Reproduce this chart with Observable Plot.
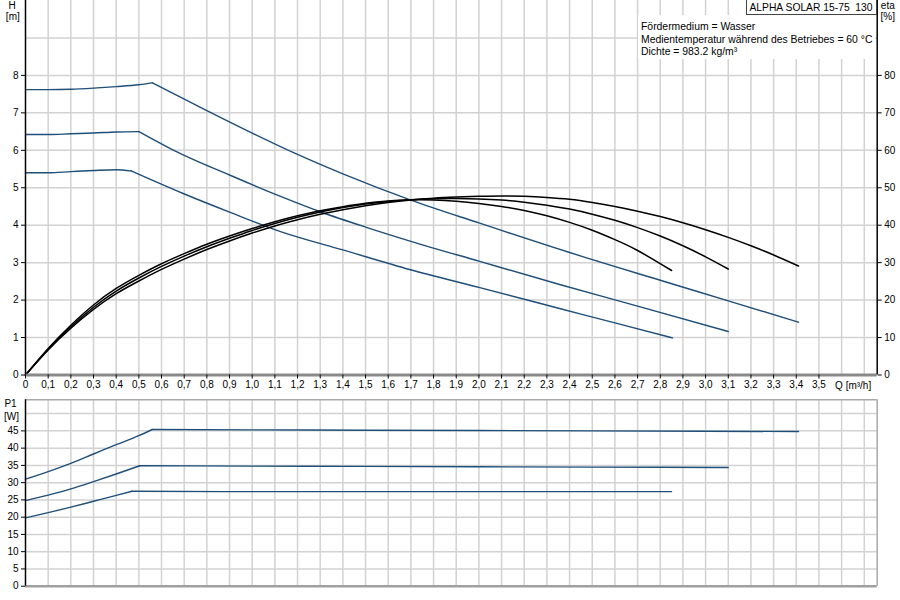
<!DOCTYPE html>
<html>
<head>
<meta charset="utf-8">
<script src="https://cdn.jsdelivr.net/npm/d3@7"></script>
<script src="https://cdn.jsdelivr.net/npm/@observablehq/plot@0.6"></script>
<style>
  body { margin: 0; background: #fff; font-family: "Liberation Sans", Arial, sans-serif; }
  #wrap { position: relative; width: 900px; height: 600px; overflow: hidden; }
  #wrap svg { display: block; }
  .titlebox { position: absolute; left: 745.5px; top: -1px; width: 129px; height: 14px; border: 1px solid #444;
    background: #fff; font-size: 10.3px; line-height: 15px; text-align: center; white-space: pre; color: #000; }
  .infobox { position: absolute; left: 638px; top: 15px; width: 237px; height: 44px; background: #fff; }
  .infoline { position: absolute; left: 641px; height: 12px; line-height: 12px; font-size: 10.4px; color: #000; white-space: nowrap; }
</style>
</head>
<body>
<div id="wrap"></div>
<script>
// ---------------- data ----------------
const pumpTitle = "ALPHA SOLAR 15-75  130";
const infoLines = ["Fördermedium = Wasser", "Medientemperatur während des Betriebes = 60 °C", "Dichte = 983.2 kg/m³"];

// x ticks (Q, m³/h)
const qTicks = d3.range(0, 36).map(i => i / 10);
const qGrid = d3.range(1, 38).map(i => i / 10);
const qMax = 3.757;
// head ticks (m) and efficiency ticks (%)
const hTicks = [0, 1, 2, 3, 4, 5, 6, 7, 8];
const hGrid = [1, 2, 3, 4, 5, 6, 7, 8, 9];
const etaTicks = [0, 10, 20, 30, 40, 50, 60, 70, 80];
// power ticks (W)
const pTicks = [0, 5, 10, 15, 20, 25, 30, 35, 40, 45];
const pGrid = [5, 10, 15, 20, 25, 30, 35, 40, 45, 50];

// Head curves H [m]: speed 3 (A), speed 2 (B), speed 1 (C)
const headA_q1 = [0, 0.1, 0.2, 0.3, 0.4, 0.5, 0.56];
const headA_h1 = [7.62, 7.62, 7.63, 7.66, 7.70, 7.75, 7.80];
const headA_q2 = [0.56, 0.8, 1.0, 1.2, 1.4, 1.7, 2.0, 2.4, 2.8, 3.1, 3.41];
const headA_h2 = [7.80, 7.06, 6.46, 5.89, 5.37, 4.67, 4.06, 3.27, 2.53, 1.98, 1.41];

const headB_q1 = [0, 0.1, 0.2, 0.3, 0.4, 0.5];
const headB_h1 = [6.42, 6.42, 6.44, 6.46, 6.49, 6.50];
const headB_q2 = [0.5, 0.654, 0.9, 1.125, 1.3, 1.5, 1.7, 2.0, 2.36, 2.7, 3.1];
const headB_h2 = [6.50, 6.0, 5.34, 4.77, 4.36, 3.95, 3.57, 3.04, 2.41, 1.84, 1.16];

const headC_q1 = [0, 0.1, 0.2, 0.3, 0.4, 0.466];
const headC_h1 = [5.40, 5.40, 5.43, 5.46, 5.48, 5.45];
const headC_q2 = [0.466, 0.698, 0.9, 1.125, 1.4, 1.698, 2.0, 2.36, 2.6, 2.854];
const headC_h2 = [5.45, 4.84, 4.35, 3.83, 3.34, 2.81, 2.34, 1.77, 1.39, 0.99];

// Efficiency curves eta [%]
const effA_q = [0, 0.1, 0.2, 0.3, 0.4, 0.5, 0.6, 0.7, 0.8, 0.9, 1.0, 1.1, 1.2, 1.3, 1.4, 1.5, 1.6, 1.7, 1.8, 1.9, 2.0, 2.1, 2.2, 2.3, 2.4, 2.5, 2.6, 2.7, 2.8, 2.9, 3.0, 3.1, 3.2, 3.3, 3.41];
const effA_e = [0, 6.7, 12.5, 17.5, 21.7, 25.1, 28.2, 30.95, 33.5, 35.8, 37.9, 39.8, 41.45, 42.9, 44.15, 45.2, 46.05, 46.7, 47.2, 47.5, 47.7, 47.8, 47.7, 47.4, 46.9, 46.05, 45.0, 43.75, 42.3, 40.65, 38.8, 36.75, 34.5, 32.05, 29.1];

const effB_q = [0, 0.1, 0.2, 0.3, 0.4, 0.5, 0.6, 0.7, 0.8, 0.9, 1.0, 1.1, 1.2, 1.3, 1.4, 1.5, 1.6, 1.7, 1.8, 1.9, 2.0, 2.1, 2.2, 2.3, 2.4, 2.5, 2.6, 2.7, 2.8, 2.9, 3.0, 3.1];
const effB_e = [0, 6.9, 12.9, 18.1, 22.4, 25.9, 29.0, 31.75, 34.25, 36.5, 38.6, 40.45, 42.1, 43.5, 44.7, 45.65, 46.35, 46.8, 47.05, 47.1, 47.0, 46.7, 46.15, 45.35, 44.3, 42.95, 41.3, 39.35, 37.1, 34.5, 31.55, 28.3];

const effC_q = [0, 0.1, 0.2, 0.3, 0.4, 0.5, 0.6, 0.7, 0.8, 0.9, 1.0, 1.1, 1.2, 1.3, 1.4, 1.5, 1.6, 1.7, 1.8, 1.9, 2.0, 2.1, 2.2, 2.3, 2.4, 2.5, 2.6, 2.7, 2.85];
const effC_e = [0, 7.1, 13.3, 18.7, 23.1, 26.6, 29.7, 32.4, 34.9, 37.1, 39.1, 40.9, 42.5, 43.85, 44.95, 45.85, 46.45, 46.8, 46.75, 46.4, 45.8, 45.0, 43.95, 42.5, 40.75, 38.65, 36.15, 33.25, 27.9];

// Power curves P1 [W]
const powA_q1 = [0, 0.1, 0.2, 0.3, 0.4, 0.5, 0.559];
const powA_p1 = [31.0, 33.2, 35.6, 38.3, 41.0, 43.6, 45.4];
const powA_q2 = [0.559, 1.0, 1.5, 2.0, 2.5, 3.0, 3.41];
const powA_p2 = [45.4, 45.3, 45.2, 45.1, 45.0, 44.9, 44.8];

const powB_q1 = [0, 0.1, 0.2, 0.3, 0.4, 0.504];
const powB_p1 = [24.8, 26.4, 28.2, 30.3, 32.5, 34.9];
const powB_q2 = [0.504, 1.0, 1.5, 2.0, 2.5, 3.1];
const powB_p2 = [34.9, 34.8, 34.7, 34.6, 34.5, 34.4];

const powC_q1 = [0, 0.1, 0.2, 0.3, 0.4, 0.47];
const powC_p1 = [19.8, 21.3, 22.9, 24.6, 26.3, 27.5];
const powC_q2 = [0.47, 1.0, 1.5, 2.0, 2.5, 2.85];
const powC_p2 = [27.5, 27.4, 27.4, 27.4, 27.4, 27.4];

// ---------------- build tables ----------------
const rows = (s, qs, vs) => qs.map((q, i) => ({ s, q, v: vs[i] }));
const head = [
  ...rows("A1", headA_q1, headA_h1), ...rows("A2", headA_q2, headA_h2),
  ...rows("B1", headB_q1, headB_h1), ...rows("B2", headB_q2, headB_h2),
  ...rows("C1", headC_q1, headC_h1), ...rows("C2", headC_q2, headC_h2)
];
const eff = [
  ...rows("A", effA_q, effA_e), ...rows("B", effB_q, effB_e), ...rows("C", effC_q, effC_e)
];
const power = [
  ...rows("A1", powA_q1, powA_p1), ...rows("A2", powA_q2, powA_p2),
  ...rows("B1", powB_q1, powB_p1), ...rows("B2", powB_q2, powB_p2),
  ...rows("C1", powC_q1, powC_p1), ...rows("C2", powC_q2, powC_p2)
];

const fmtQ = d => d === 0 ? "0" : d.toFixed(1).replace(".", ",");
const FONT = '"Liberation Sans", Arial, sans-serif';
const BLUE = "#1f4e79";
const GRID = "#d2d2d2";
const lbl = { fontSize: 10, textAnchor: "middle", lineAnchor: "middle" };

// ---------------- top chart: H and eta ----------------
const chartTop = Plot.plot({
  width: 900, height: 398,
  marginLeft: 25, marginRight: 23.3, marginTop: 0, marginBottom: 23.5,
  x: { domain: [0, qMax] },
  y: { domain: [0, 10] },
  style: { fontFamily: FONT, fontSize: "10px", color: "#000", background: "transparent", overflow: "visible" },
  marks: [
    Plot.ruleX(qGrid, { stroke: GRID, strokeWidth: 1.5 }),
    Plot.ruleY(hGrid, { stroke: GRID, strokeWidth: 1.5 }),
    Plot.line(head, { x: "q", y: "v", z: "s", stroke: BLUE, strokeWidth: 1.4, curve: "monotone-x" }),
    Plot.line(eff, { x: "q", y: d => d.v / 10, z: "s", stroke: "#000", strokeWidth: 1.5, curve: "natural" }),
    Plot.ruleY([0], { stroke: "#8a8a8a", strokeWidth: 3 }),
    Plot.ruleX([0], { stroke: "#000", strokeWidth: 1.5 }),
    Plot.ruleX([qMax], { stroke: "#000", strokeWidth: 1.5 }),
    Plot.axisX(qTicks, { anchor: "bottom", tickSize: 4, tickPadding: 2, tickFormat: fmtQ, label: null }),
    Plot.axisY(hTicks, { anchor: "left", tickSize: 4, tickPadding: 3, label: null }),
    Plot.axisY(etaTicks.map(e => e / 10), { anchor: "right", tickSize: 4, tickPadding: 3, tickFormat: d => String(Math.round(d * 10)), label: null }),
    Plot.text(["Q [m³/h]"], { frameAnchor: "bottom-right", dx: -6, dy: 11, textAnchor: "end", lineAnchor: "middle", fontSize: 10 }),
    Plot.text(["H"], { frameAnchor: "top-left", dx: -13.3, dy: 5, ...lbl }),
    Plot.text(["[m]"], { frameAnchor: "top-left", dx: -12.7, dy: 16.7, ...lbl }),
    Plot.text(["eta"], { frameAnchor: "top-right", dx: 10.6, dy: 5, ...lbl }),
    Plot.text(["[%]"], { frameAnchor: "top-right", dx: 10.6, dy: 16.7, ...lbl })
  ]
});

// ---------------- bottom chart: P1 ----------------
const chartBottom = Plot.plot({
  width: 900, height: 202,
  marginLeft: 25, marginRight: 23.3, marginTop: 1.3, marginBottom: 14.3,
  x: { domain: [0, qMax], axis: null },
  y: { domain: [0, 54] },
  style: { fontFamily: FONT, fontSize: "10px", color: "#000", background: "transparent", overflow: "visible" },
  marks: [
    Plot.ruleX(qGrid, { stroke: GRID, strokeWidth: 1.5 }),
    Plot.ruleY(pGrid, { stroke: GRID, strokeWidth: 1.5 }),
    Plot.line(power, { x: "q", y: "v", z: "s", stroke: BLUE, strokeWidth: 1.4, curve: "monotone-x" }),
    Plot.ruleY([54], { stroke: "#a8a8a8", strokeWidth: 1.5 }),
    Plot.ruleX([qMax], { stroke: "#a8a8a8", strokeWidth: 1.5 }),
    Plot.ruleY([0], { stroke: "#a0a0a0", strokeWidth: 2.5 }),
    Plot.ruleX([0], { stroke: "#000", strokeWidth: 1.5 }),
    Plot.axisY(pTicks, { anchor: "left", tickSize: 4, tickPadding: 3, label: null }),
    Plot.text(["P1"], { frameAnchor: "top-left", dx: -15, dy: 4, ...lbl }),
    Plot.text(["[W]"], { frameAnchor: "top-left", dx: -14, dy: 16.7, ...lbl })
  ]
});

const wrap = document.getElementById("wrap");
wrap.appendChild(chartTop);
wrap.appendChild(chartBottom);

const info = document.createElement("div");
info.className = "infobox";
wrap.appendChild(info);
const lineCenters = [26.7, 40, 52.3];
infoLines.forEach((t, i) => {
  const d = document.createElement("div");
  d.className = "infoline";
  d.style.top = (lineCenters[i] - 6) + "px";
  d.textContent = t;
  wrap.appendChild(d);
});

const title = document.createElement("div");
title.className = "titlebox";
title.textContent = pumpTitle;
wrap.appendChild(title);
</script>
</body>
</html>
